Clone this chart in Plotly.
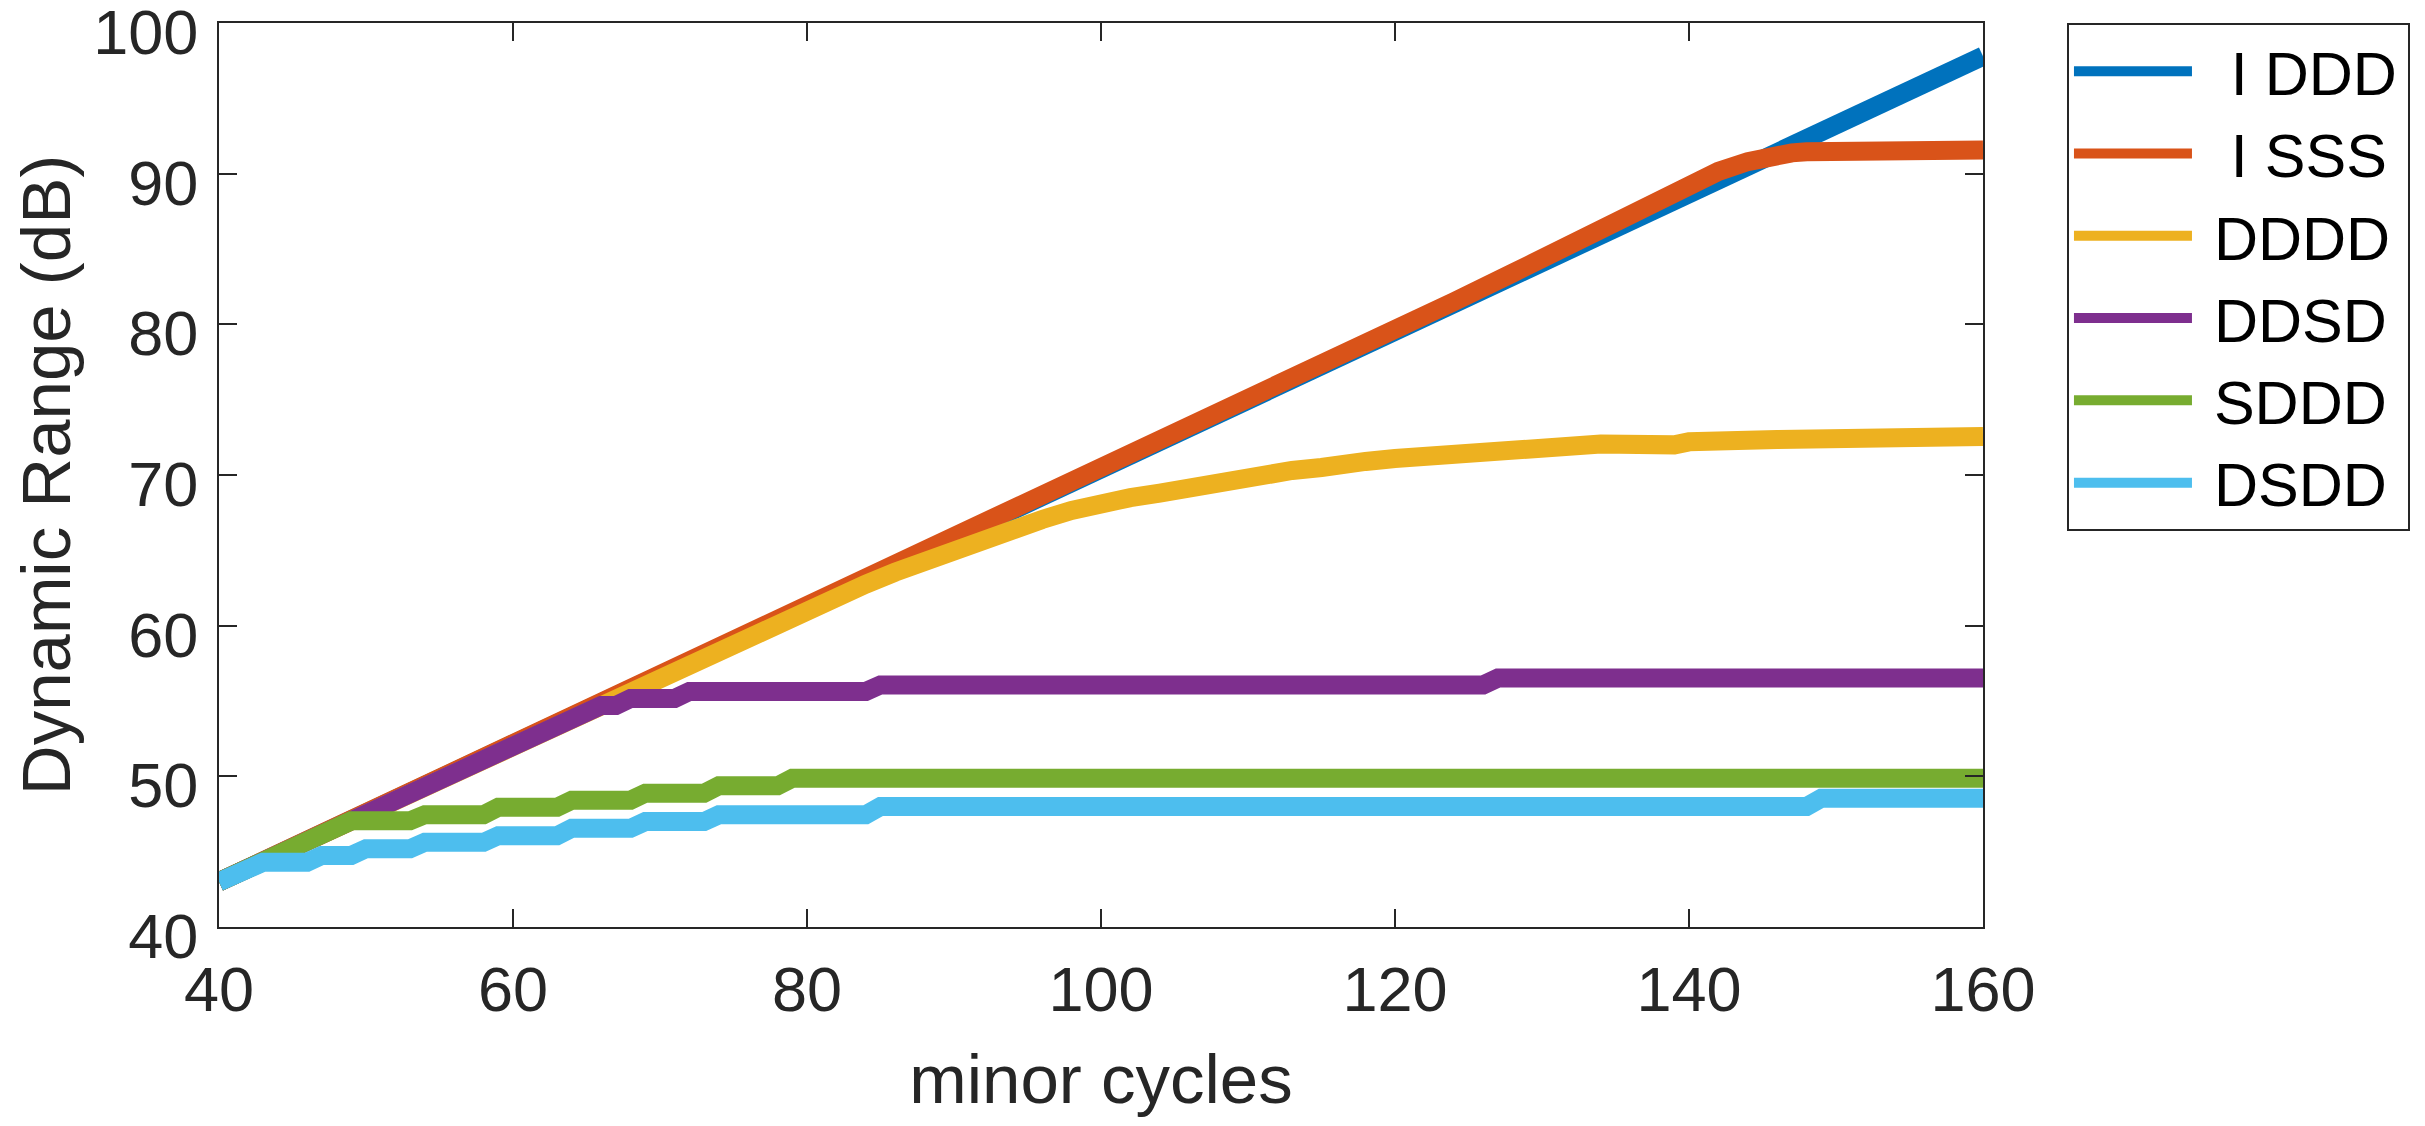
import plotly.graph_objects as go

# ---- data ----
x_iddd = [40, 60, 80, 100, 120, 140, 160]
y_iddd = [43.0, 52.1, 61.3, 70.4, 79.5, 88.7, 97.8]

x_isss = [40, 60, 80, 100, 110, 120, 124, 128, 132, 135, 138, 140, 142, 144, 145, 146, 147, 148, 152, 154, 157, 160]
y_isss = [43.0, 52.1, 61.3, 70.4, 75.0, 79.6, 81.5, 83.4, 85.35, 86.9, 88.45, 89.35, 90.15, 90.8, 91.1, 91.28, 91.38, 91.45, 91.5, 91.45, 91.52, 91.57]

x_dddd = [40, 66, 70, 74, 79.5, 82, 84, 86, 88, 90, 92, 94, 96, 98, 100, 102, 104, 106, 108, 111, 113, 115, 116, 118, 120,
          122, 124, 129, 134, 139, 140, 146, 151, 155, 160]
y_dddd = [43.0, 54.85, 56.65, 58.3, 60.8, 61.9, 62.75, 63.55, 64.3, 65.0, 65.7, 66.4, 67.05, 67.65, 68.15, 68.5, 68.8, 69.2, 69.6, 70.05, 70.3, 70.5, 70.7, 70.9, 71.1,
          71.2, 71.5, 71.85, 72.05, 72.0, 72.2, 72.35, 72.45, 72.5, 72.55]

x_ddsd = [40, 65, 66, 67, 68, 71, 72, 84, 85, 126, 127, 160]
y_ddsd = [43.0, 54.4, 54.7, 54.7, 55.17, 55.17, 55.63, 55.63, 56.07, 56.07, 56.52, 56.52]

x_sddd = [40, 49, 53, 54, 58, 59, 63, 64, 68, 69, 73, 74, 78, 79, 160]
y_sddd = [43.0, 47.05, 47.05, 47.45, 47.45, 47.94, 47.94, 48.42, 48.42, 48.88, 48.88, 49.37, 49.37, 49.87, 49.87]

x_dsdd = [40, 43, 46, 47, 49, 50, 53, 54, 58, 59, 63, 64, 68, 69, 73, 74, 84, 85, 148, 149, 160]
y_dsdd = [43.0, 44.3, 44.3, 44.75, 44.75, 45.2, 45.2, 45.62, 45.62, 46.06, 46.06, 46.55, 46.55, 47.0, 47.0, 47.45, 47.45, 48.0, 48.0, 48.55, 48.55]

NB = "\u00a0"
series_names = [NB + NB + "I DDD\u200a", NB + NB + "I SSS", NB + "DDDD", NB + "DDSD", NB + "SDDD", NB + "DSDD"]
series_x = [x_iddd, x_isss, x_dddd, x_ddsd, x_sddd, x_dsdd]
series_y = [y_iddd, y_isss, y_dddd, y_ddsd, y_sddd, y_dsdd]
colors = ["#0072BD", "#D95319", "#EDB120", "#7E2F8E", "#77AC30", "#4DBEEE"]

x_ticks = [40, 60, 80, 100, 120, 140, 160]
y_ticks = [40, 50, 60, 70, 80, 90, 100]

FONT = "Liberation Sans, Arial, Helvetica, sans-serif"
AX = "#262626"

fig = go.Figure()
for n, xs, ys, c in zip(series_names, series_x, series_y, colors):
    fig.add_trace(go.Scatter(x=xs, y=ys, mode="lines", name=n,
                             line=dict(color=c, width=19)))

fig.update_layout(
    width=2409, height=1110,
    margin=dict(l=211, r=434, t=15, b=191, autoexpand=False),
    paper_bgcolor="white", plot_bgcolor="white",
    font=dict(family=FONT, size=63, color=AX),
    showlegend=True,
    legend=dict(x=1.0476, y=1.0, xanchor="left", yanchor="top",
                bordercolor=AX, borderwidth=2, bgcolor="white",
                font=dict(family=FONT, size=61, color="black"),
                itemwidth=118, tracegroupgap=0),
)
fig.update_xaxes(range=[40, 160], tickvals=x_ticks, ticktext=[str(v) for v in x_ticks],
                 ticks="inside", ticklen=18, tickwidth=2, tickcolor=AX,
                 showline=True, linewidth=2, linecolor=AX, mirror="ticks",
                 showgrid=False, zeroline=False, ticklabeloverflow="allow",
                 automargin=False,
                 tickfont=dict(family=FONT, size=63, color=AX),
                 ticklabelstandoff=6,
                 title=dict(text="minor cycles", font=dict(family=FONT, size=69, color=AX), standoff=50))
fig.update_yaxes(range=[40, 100], tickvals=y_ticks, ticktext=[str(v) for v in y_ticks],
                 ticks="inside", ticklen=18, tickwidth=2, tickcolor=AX,
                 showline=True, linewidth=2, linecolor=AX, mirror="ticks",
                 showgrid=False, zeroline=False, ticklabeloverflow="allow",
                 automargin=False,
                 tickfont=dict(family=FONT, size=63, color=AX),
                 ticklabelstandoff=6, ticklabelshift=9,
                 title=dict(text="Dynamic Range (dB)", font=dict(family=FONT, size=69, color=AX), standoff=41))

fig.write_html("out.html")
